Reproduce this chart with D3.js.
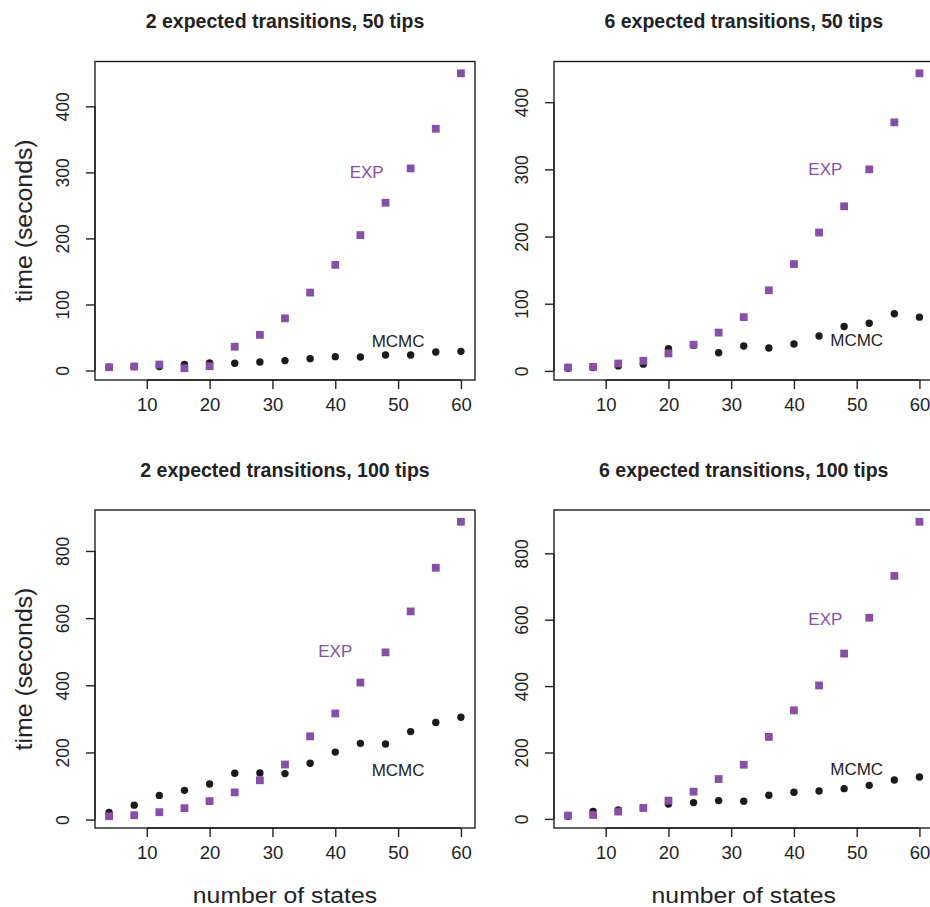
<!DOCTYPE html>
<html>
<head>
<meta charset="utf-8">
<script src="https://cdn.jsdelivr.net/npm/d3@7"></script>
<style>
  html, body { margin: 0; padding: 0; background: #fff; }
  svg text { font-family: "Liberation Sans", Arial, Helvetica, sans-serif; fill: #222; }
</style>
</head>
<body>
<svg id="chart" width="930" height="907"></svg>
<script>
// ---------------- data ----------------
const states = [4, 8, 12, 16, 20, 24, 28, 32, 36, 40, 44, 48, 52, 56, 60];
const xTicks = [10, 20, 30, 40, 50, 60];
const titles = [
  "2 expected transitions, 50 tips",
  "6 expected transitions, 50 tips",
  "2 expected transitions, 100 tips",
  "6 expected transitions, 100 tips"
];
const yTicksTop = [0, 100, 200, 300, 400];
const yTicksBottom = [0, 200, 400, 600, 800];

const exp_2_50  = [5, 6, 9, 3.5, 6.5, 36, 54, 79, 118, 160, 205, 254, 306, 366, 450];
const mcmc_2_50 = [5, 6, 6, 9, 11.5, 11, 13, 15, 18, 21, 20.5, 23.5, 23.5, 28, 29];

const exp_6_50  = [5, 6, 11, 15, 26, 39, 57, 80, 120, 159, 206, 245, 300, 370, 443];
const mcmc_6_50 = [4, 5, 7.4, 10, 33, 38, 27, 37, 34, 40, 52, 66, 71, 85, 80];

const exp_2_100  = [10, 13, 22, 34, 55, 81, 117, 164, 248, 316, 408, 498, 620, 750, 887];
const mcmc_2_100 = [21, 43, 72, 87, 106, 138, 139, 137, 168, 201, 227, 225, 262, 289, 305];

const exp_6_100  = [10, 12, 22, 33, 55, 82, 120, 163, 247, 327, 402, 498, 606, 732, 895];
const mcmc_6_100 = [8, 22, 27, 33, 45, 49, 55, 53, 71, 80, 84, 91, 101, 117, 126];

const seriesNames = ["EXP", "MCMC"];
// label anchor positions in data units (x = states, y = seconds)
const labelPos = [
  { exp: [45, 300], mcmc: [50, 44] },
  { exp: [45, 300], mcmc: [50, 44.5] },
  { exp: [40, 501], mcmc: [50, 147] },
  { exp: [45, 600], mcmc: [50, 148] }
];

// ---------------- layout ----------------
const PURPLE = "#8650a6";
const DARK = "#1b1b1b";
const panels = [
  { title: titles[0], exp: exp_2_50, mcmc: mcmc_2_50, yTicks: yTicksTop, left: 95, right: 475, top: 61.5, bottom: 380, ylab: true, xlab: false },
  { title: titles[1], exp: exp_6_50, mcmc: mcmc_6_50, yTicks: yTicksTop, left: 554, right: 933.5, top: 61.5, bottom: 380, ylab: false, xlab: false },
  { title: titles[2], exp: exp_2_100, mcmc: mcmc_2_100, yTicks: yTicksBottom, left: 95, right: 475, top: 510, bottom: 828, ylab: true, xlab: true },
  { title: titles[3], exp: exp_6_100, mcmc: mcmc_6_100, yTicks: yTicksBottom, left: 554, right: 933.5, top: 510, bottom: 828, ylab: false, xlab: true }
];

const svg = d3.select("#chart");

function rExtend(lo, hi) {
  const e = (hi - lo) * 0.04;
  return [lo - e, hi + e];
}

panels.forEach((p, i) => {
  const g = svg.append("g");
  const xDom = rExtend(d3.min(states), d3.max(states));
  const allY = p.exp.concat(p.mcmc);
  const yDom = rExtend(d3.min(allY), d3.max(allY));
  const x = d3.scaleLinear().domain(xDom).range([p.left, p.right]);
  const y = d3.scaleLinear().domain(yDom).range([p.bottom, p.top]);

  // points: MCMC first, then EXP on top
  g.selectAll("circle.mcmc").data(states.map((s, k) => [s, p.mcmc[k]]))
    .join("circle").attr("class", "mcmc")
    .attr("cx", d => x(d[0])).attr("cy", d => y(d[1])).attr("r", 3.7)
    .attr("fill", DARK);
  const sq = 7.8;
  g.selectAll("rect.exp").data(states.map((s, k) => [s, p.exp[k]]))
    .join("rect").attr("class", "exp")
    .attr("x", d => x(d[0]) - sq / 2).attr("y", d => y(d[1]) - sq / 2)
    .attr("width", sq).attr("height", sq)
    .attr("fill", PURPLE);

  // box
  g.append("rect").attr("x", p.left).attr("y", p.top)
    .attr("width", p.right - p.left).attr("height", p.bottom - p.top)
    .attr("fill", "none").attr("stroke", "#222").attr("stroke-width", 1.4);

  // x axis
  const xAxis = d3.axisBottom(x).tickValues(xTicks).tickSize(9).tickPadding(8).tickFormat(d3.format("d"));
  const gx = g.append("g").attr("transform", `translate(0,${p.bottom})`).call(xAxis);
  gx.select(".domain").attr("d", `M${x(xTicks[0])},0H${x(xTicks[xTicks.length - 1])}`).attr("stroke", "#222").attr("stroke-width", 1.4);
  gx.selectAll(".tick line").attr("stroke", "#222").attr("stroke-width", 1.4);
  gx.selectAll(".tick text").attr("font-size", 18.5).attr("fill", "#222")
    .attr("font-family", "Liberation Sans, Arial, sans-serif").attr("dy", "0.75em");

  // y axis
  const yAxis = d3.axisLeft(y).tickValues(p.yTicks).tickSize(9).tickPadding(0).tickFormat(d3.format("d"));
  const gy = g.append("g").attr("transform", `translate(${p.left},0)`).call(yAxis);
  gy.select(".domain").attr("d", `M0,${y(p.yTicks[0])}V${y(p.yTicks[p.yTicks.length - 1])}`).attr("stroke", "#222").attr("stroke-width", 1.4);
  gy.selectAll(".tick line").attr("stroke", "#222").attr("stroke-width", 1.4);
  gy.selectAll(".tick text")
    .attr("x", null).attr("dy", null)
    .attr("transform", "translate(-26,0) rotate(-90)")
    .attr("text-anchor", "middle")
    .attr("font-size", 17.5).attr("fill", "#222")
    .attr("font-family", "Liberation Sans, Arial, sans-serif");

  // title
  g.append("text").attr("x", (p.left + p.right) / 2).attr("y", p.top - 33.5)
    .attr("text-anchor", "middle").attr("font-size", 19.5).attr("font-weight", "bold")
    .text(p.title);

  // axis titles
  if (p.xlab) {
    const cx = (p.left + p.right) / 2;
    g.append("text").attr("transform", `translate(${cx},${p.bottom + 75}) scale(1.1,1)`)
      .attr("text-anchor", "middle").attr("font-size", 22.5).text("number of states");
  }
  if (p.ylab) {
    const cy = (p.top + p.bottom) / 2;
    g.append("text").attr("transform", `translate(32,${cy}) rotate(-90) scale(1.08,1)`)
      .attr("text-anchor", "middle").attr("font-size", 23).text("time (seconds)");
  }

  // series labels
  const lp = labelPos[i];
  g.append("text").attr("x", x(lp.exp[0])).attr("y", y(lp.exp[1]))
    .attr("text-anchor", "middle").attr("dominant-baseline", "central")
    .attr("font-size", 17).style("fill", PURPLE).text(seriesNames[0]);
  g.append("text").attr("x", x(lp.mcmc[0])).attr("y", y(lp.mcmc[1]))
    .attr("text-anchor", "middle").attr("dominant-baseline", "central")
    .attr("font-size", 17).style("fill", "#222").text(seriesNames[1]);
});
</script>
</body>
</html>
